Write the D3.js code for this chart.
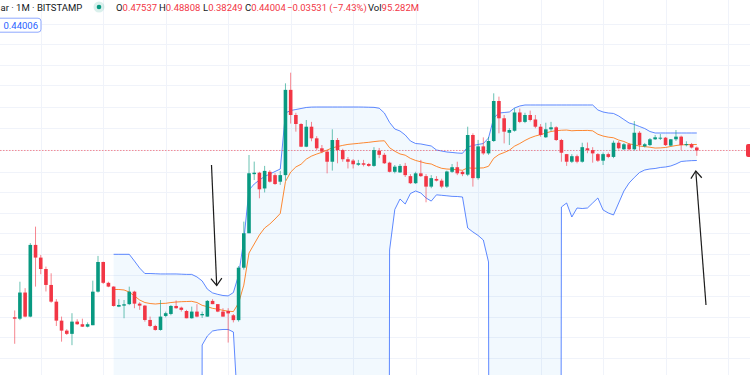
<!DOCTYPE html>
<html><head><meta charset="utf-8">
<script src="https://cdn.jsdelivr.net/npm/d3@7"></script>
<style>
html,body{margin:0;padding:0;background:#fff;overflow:hidden;}
svg{display:block;}
text{font-family:Roboto,"Noto Sans",sans-serif;}
</style></head><body>
<svg id="c" width="750" height="375"></svg>
<script>
// ---- data (XRP / U.S. Dollar, monthly, BITSTAMP) ----
const firstMonth = [2013, 8];           // first candle: Aug 2013
const open  = [0.0056,0.0054,0.0107,0.0057,0.0372,0.0267,0.0198,0.01305,0.00843,0.00513,0.00395,0.00363,0.0050,0.00467,0.00438,0.00455,0.01095,0.0238,0.0138,0.0125,
 0.0074,0.0076,0.0079,0.01095,0.0080,0.0076,0.00522,0.00446,0.00402,0.0058,0.00611,0.00753,0.00721,0.0066,0.00546,0.0065,0.0059,0.0057,0.0086,0.0079,
 0.0065,0.0066,0.0059,0.0052,0.0205,0.0505,0.237,0.246,0.163,0.252,0.231,0.1945,0.231,2.15,1.114,0.88,0.486,0.82,0.605,0.466,
 0.427,0.328,0.579,0.445,0.35,0.338,0.303,0.315,0.309,0.294,0.438,0.393,0.32,0.252,0.248,0.294,0.225,0.187,0.242,0.225,
 0.171,0.209,0.200,0.171,0.252,0.284,0.252,0.234,0.66,0.2135,0.49,0.408,0.564,1.606,1.022,0.70,0.738,1.19,0.93,1.114,
 0.99,0.82,0.622,0.766,0.807,0.579,0.40,0.328,0.379,0.328,0.466,0.445,0.40,0.337,0.40,0.372,0.539,0.454,0.518,0.454,
 0.70,0.49,0.507,0.59,0.605,0.615,0.50,0.59,0.632,0.507,0.518,0.47537];
const high  = [0.0067,0.0142,0.0120,0.0390,0.0600,0.0286,0.0211,0.0177,0.0090,0.0057,0.0041,0.00623,0.00532,0.0054,0.0049,0.0146,0.0279,0.0240,0.0142,0.0126,
 0.0090,0.0088,0.01248,0.0112,0.0083,0.0077,0.0057,0.0046,0.0088,0.00649,0.00773,0.0087,0.0074,0.0068,0.0074,0.0079,0.0065,0.0088,0.0090,0.0079,
 0.0071,0.0071,0.0061,0.0214,0.0684,0.391,0.329,0.252,0.294,0.263,0.243,0.258,2.55,3.37,1.18,0.90,0.977,0.93,0.64,0.508,
 0.445,0.766,0.61,0.46,0.371,0.352,0.344,0.344,0.318,0.48,0.47,0.413,0.328,0.301,0.309,0.318,0.237,0.252,0.344,0.237,
 0.231,0.225,0.21,0.26,0.309,0.328,0.26,0.82,0.69,0.58,0.62,0.627,1.964,1.8,1.114,0.79,1.33,1.32,1.18,1.25,
 1.114,0.88,0.91,0.93,0.83,0.596,0.402,0.40,0.395,0.539,0.542,0.48,0.411,0.417,0.417,0.57,0.564,0.536,0.536,0.95,
 0.73,0.536,0.61,0.66,0.678,0.627,0.594,0.752,0.65,0.56,0.536,0.48808];
const low   = [0.0028,0.0052,0.0056,0.0056,0.0125,0.0173,0.0110,0.0082,0.00446,0.00296,0.00353,0.0027,0.00459,0.00434,0.0043,0.00455,0.0107,0.0134,0.0123,0.0074,
 0.0073,0.00546,0.0077,0.0071,0.0068,0.0050,0.00434,0.00395,0.00395,0.0056,0.0059,0.0070,0.0065,0.00546,0.0054,0.0056,0.0055,0.0057,0.0079,0.0064,
 0.0057,0.00289,0.0049,0.0050,0.0195,0.0505,0.203,0.126,0.147,0.19,0.179,0.179,0.20,0.89,0.72,0.48,0.48,0.56,0.445,0.41,
 0.242,0.26,0.315,0.328,0.275,0.275,0.294,0.29,0.287,0.287,0.36,0.309,0.248,0.242,0.245,0.22,0.183,0.183,0.22,0.1135,
 0.164,0.196,0.164,0.165,0.245,0.231,0.225,0.225,0.171,0.205,0.393,0.393,0.55,0.69,0.53,0.508,0.72,0.90,0.90,0.94,
 0.787,0.63,0.61,0.73,0.564,0.328,0.294,0.317,0.315,0.32,0.41,0.32,0.326,0.301,0.36,0.36,0.452,0.445,0.442,0.44,
 0.445,0.476,0.494,0.579,0.579,0.494,0.49,0.564,0.445,0.49,0.464,0.38249];
const close = [0.0054,0.0107,0.0057,0.0372,0.0267,0.0198,0.01305,0.00843,0.00513,0.00395,0.00363,0.0050,0.00467,0.00438,0.00467,0.01095,0.0238,0.0138,0.0125,0.00753,
 0.00773,0.00787,0.01095,0.0080,0.0076,0.00522,0.00446,0.00402,0.0057,0.00623,0.00753,0.0071,0.0068,0.00546,0.0065,0.0057,0.0061,0.0086,0.0079,0.0065,
 0.0057,0.0062,0.0052,0.0205,0.0505,0.2425,0.246,0.1594,0.258,0.1945,0.183,0.231,2.15,1.114,0.88,0.486,0.82,0.605,0.466,0.427,
 0.328,0.579,0.445,0.35,0.328,0.307,0.315,0.303,0.294,0.445,0.393,0.315,0.252,0.288,0.294,0.231,0.187,0.242,0.225,0.171,
 0.2135,0.200,0.171,0.254,0.284,0.242,0.237,0.66,0.2135,0.49,0.408,0.564,1.606,1.022,0.72,0.752,1.19,0.93,1.114,0.977,
 0.82,0.66,0.766,0.807,0.579,0.415,0.328,0.379,0.328,0.48,0.445,0.408,0.337,0.40,0.372,0.539,0.466,0.518,0.454,0.70,
 0.507,0.518,0.59,0.621,0.615,0.507,0.59,0.632,0.507,0.52,0.4754,0.44004];

// Bollinger Bands (20, 2) as drawn; first value belongs to candle index bbFirst.
// null = band below zero (off the log scale).
const bbFirst = 19;
const bbUpper = [0.0291,0.0291,0.0291,0.0291,0.0244,0.0203,0.0176,0.0176,0.0175,0.0174,0.0174,0.0174,0.0174,0.0173,0.0172,0.0172,0.0161,0.0145,0.0117,0.0106,
 0.0102,0.0099,0.0098,0.0107,0.0169,0.0423,0.1565,0.183,0.203,0.223,0.238,0.254,0.271,1.174,1.253,1.286,1.32,1.356,1.37,1.373,
 1.373,1.373,1.373,1.373,1.373,1.373,1.373,1.373,1.37,1.365,1.36,1.33,1.174,0.915,0.772,0.733,0.660,0.564,0.528,0.522,
 0.508,0.495,0.446,0.434,0.423,0.418,0.412,0.409,0.482,0.502,0.515,0.528,0.610,1.030,1.174,1.189,1.205,1.338,1.41,1.447,
 1.447,1.447,1.447,1.447,1.447,1.447,1.447,1.447,1.447,1.447,1.447,1.447,1.447,1.27,1.205,1.174,1.16,1.085,0.990,0.904,
 0.869,0.824,0.782,0.723,0.6955,0.6955,0.6955,0.6955,0.6955,0.6955,0.6955,0.6955,0.6955];
const bbBasis = [0.01159,0.01159,0.01144,0.01085,0.00977,0.00880,0.00824,0.00803,0.00793,0.00803,0.00807,0.00824,0.00835,0.00842,0.00846,0.00850,0.00824,0.00766,0.00739,0.00708,
 0.00692,0.00672,0.00657,0.00650,0.00814,0.0130,0.0301,0.0381,0.0483,0.0579,0.0643,0.0733,0.0847,0.195,0.25,0.286,0.307,0.351,0.380,0.401,
 0.42,0.445,0.471,0.488,0.503,0.516,0.523,0.53,0.538,0.545,0.555,0.5635,0.5675,0.4726,0.4313,0.402,0.389,0.358,0.339,0.327,
 0.315,0.309,0.290,0.276,0.271,0.269,0.266,0.262,0.280,0.276,0.278,0.279,0.291,0.359,0.396,0.417,0.443,0.493,0.528,0.572,
 0.612,0.643,0.666,0.695,0.723,0.738,0.747,0.751,0.737,0.743,0.742,0.744,0.736,0.673,0.642,0.624,0.614,0.578,0.557,0.524,
 0.510,0.494,0.487,0.479,0.469,0.471,0.476,0.489,0.501,0.510,0.512,0.514,0.515];
const bbLower = [null,null,null,null,null,null,null,null,null,null,null,null,null,null,null,null,null,0.00271,0.00343,0.00391,
 0.00402,0.00407,0.00407,0.00381,0.00035,null,null,null,null,null,null,null,null,null,null,null,null,null,null,null,
 null,null,null,null,null,null,null,null,null,null,null,null,null,0.0326,0.094,0.1237,0.1085,0.1428,0.1525,0.1446,
 0.127,0.1171,0.1379,0.1362,0.1345,0.1325,0.132,0.1303,0.0579,0.0522,0.0476,0.0423,0.0238,null,null,null,null,null,null,null,
 null,null,null,null,null,null,0.1003,0.1114,0.0772,0.0977,0.0964,0.0977,0.1114,0.127,0.0928,0.0858,0.0814,0.1114,0.1525,0.188,
 0.2171,0.2474,0.2642,0.2713,0.2748,0.2821,0.2858,0.2934,0.309,0.330,0.3343,0.3373,0.3387];

// price-scale grid levels (log scale) and year grid lines
const gridPrices = [0.00192,0.00332,0.00569,0.00985,0.0169,0.0294,0.0504,0.0864,0.1474,0.2526,0.4426,0.787,1.384,2.44,4.14,7.08,12.2];
const gridYears = [2014,2015,2016,2017,2018,2019,2020,2021,2022,2023,2024,2025];

// legend texts (as visible in the window)
const symbolTitle = "ar · 1M · BITSTAMP";
const ohlcLabels = ["O","H","L","C"];
const ohlcValues = ["0.47537","0.48808","0.38249","0.44004"];
const changeText = "−0.03531 (−7.43%)";
const volLabel = "Vol", volValue = "95.282M";
const bbLegendValue = "0.44006";

// ---- drawing ----
const W = 750, H = 375;
const svg = d3.select("#c");
const UP = "#089981", DOWN = "#F23645";
const n = close.length;

const x = d3.scaleLinear().domain([0, n-1]).range([14.7, 696.8]);
const y = d3.scaleLog().domain([0.001237, 22.57]).range([H, 0]);
const monthIndex = d => (d.getFullYear()-firstMonth[0])*12 + d.getMonth() - (firstMonth[1]-1);

// grid
const g = svg.append("g");
g.selectAll("line.h").data(gridPrices).join("line")
  .attr("x1",0).attr("x2",W).attr("y1",d=>Math.round(y(d))+0.5).attr("y2",d=>Math.round(y(d))+0.5)
  .attr("stroke","#f0f3fa").attr("stroke-width",1);
g.selectAll("line.v").data(gridYears).join("line")
  .attr("x1",d=>Math.round(x(monthIndex(new Date(d,0,1))))+0.5).attr("x2",d=>Math.round(x(monthIndex(new Date(d,0,1))))+0.5)
  .attr("y1",0).attr("y2",H).attr("stroke","#f0f3fa").attr("stroke-width",1);

// bands
const bb = d3.range(bbUpper.length).map(k => ({i: bbFirst+k, u: bbUpper[k], m: bbBasis[k], l: bbLower[k]}));
const yl = v => v == null ? H + 3000 : y(v);
svg.append("clipPath").attr("id","clip").append("rect").attr("x",0).attr("y",0).attr("width",W).attr("height",H);
const bg = svg.append("g").attr("clip-path","url(#clip)");
bg.append("path").datum(bb)
  .attr("d", d3.area().x(d=>x(d.i)).y0(d=>yl(d.l)).y1(d=>y(d.u)))
  .attr("fill","rgba(33,150,243,0.06)");
bg.append("path").datum(bb).attr("d", d3.line().x(d=>x(d.i)).y(d=>y(d.u)))
  .attr("fill","none").attr("stroke","#2962FF").attr("stroke-opacity",0.75).attr("stroke-width",1);
bg.append("path").datum(bb).attr("d", d3.line().x(d=>x(d.i)).y(d=>yl(d.l)))
  .attr("fill","none").attr("stroke","#2962FF").attr("stroke-opacity",0.75).attr("stroke-width",1);
bg.append("path").datum(bb).attr("d", d3.line().x(d=>x(d.i)).y(d=>y(d.m)))
  .attr("fill","none").attr("stroke","#FF6D00").attr("stroke-opacity",0.8).attr("stroke-width",1);

// last price dotted line
svg.append("line").attr("x1",0).attr("x2",746).attr("y1",y(close[n-1])).attr("y2",y(close[n-1]))
  .attr("stroke",DOWN).attr("stroke-opacity",0.55).attr("stroke-width",1).attr("stroke-dasharray","1.5,1.5");

// candles
const cg = svg.append("g");
const candles = d3.range(n).map(i => ({i, o: open[i], h: high[i], l: low[i], c: close[i]}));
cg.selectAll("line").data(candles).join("line")
  .attr("x1",d=>x(d.i)).attr("x2",d=>x(d.i))
  .attr("y1",d=>y(d.h)).attr("y2",d=>y(d.l))
  .attr("stroke",d=>d.c>=d.o?UP:DOWN).attr("stroke-opacity",0.6).attr("stroke-width",1);
cg.selectAll("rect").data(candles).join("rect")
  .attr("x",d=>x(d.i)-1.8).attr("width",3.6)
  .attr("y",d=>Math.min(y(d.o),y(d.c)))
  .attr("height",d=>Math.max(1,Math.abs(y(d.o)-y(d.c))))
  .attr("fill",d=>d.c>=d.o?UP:DOWN);

// drawn arrows (annotations)
const arrow = (x1,y1,x2,y2) => {
  const a = svg.append("g").attr("stroke","#1c1c1c").attr("stroke-width",1.2).attr("fill","none");
  a.append("line").attr("x1",x1).attr("y1",y1).attr("x2",x2).attr("y2",y2);
  const ang = Math.atan2(y2-y1,x2-x1), L = 9, s = 0.65;
  a.append("path").attr("d",`M${x2-L*Math.cos(ang-s)},${y2-L*Math.sin(ang-s)}L${x2},${y2}L${x2-L*Math.cos(ang+s)},${y2-L*Math.sin(ang+s)}`);
};
arrow(211.5,165,216.7,285.5);
arrow(706,305,695.8,171);

// right price label (only its left edge is inside the window)
svg.append("rect").attr("x",746).attr("y",y(close[n-1])-6.5).attr("width",40).attr("height",13).attr("rx",2).attr("fill",DOWN);

// legend
svg.append("text").attr("x",0.5).attr("y",10.5).attr("font-size",9.5).attr("fill","#131722").text(symbolTitle);
svg.append("circle").attr("cx",99).attr("cy",7).attr("r",5.5).attr("fill","rgba(8,153,129,0.15)");
svg.append("circle").attr("cx",99).attr("cy",7).attr("r",2.3).attr("fill",UP);
const lx = [116,159,203,245];
ohlcLabels.forEach((lab,k) => {
  const t = svg.append("text").attr("x",lx[k]).attr("y",10.5).attr("font-size",9.5);
  t.append("tspan").attr("fill","#131722").text(lab);
  t.append("tspan").attr("fill",DOWN).text(ohlcValues[k]);
});
svg.append("text").attr("x",287).attr("y",10.5).attr("font-size",9.5).attr("fill",DOWN).text(changeText);
const vt = svg.append("text").attr("x",368).attr("y",10.5).attr("font-size",9.5);
vt.append("tspan").attr("fill","#131722").text(volLabel);
vt.append("tspan").attr("fill",DOWN).text(volValue);
svg.append("rect").attr("x",-4).attr("y",18.2).attr("width",45).attr("height",14).attr("rx",3)
  .attr("fill","#fff").attr("stroke","#8fa9ff").attr("stroke-width",1);
svg.append("text").attr("x",3.5).attr("y",28.6).attr("font-size",9.5).attr("fill","#2962FF").text(bbLegendValue);
</script></body></html>
